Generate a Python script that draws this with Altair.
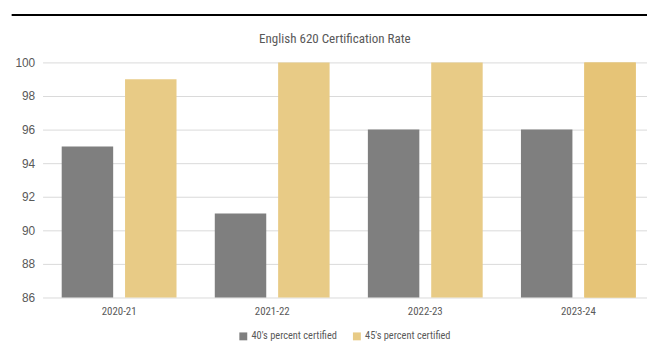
import altair as alt
import pandas as pd

years = ["2020-21", "2021-22", "2022-23", "2023-24"]
series = ["40's percent certified", "45's percent certified"]
s40 = [95, 91, 96, 96]
s45 = [99, 100, 100, 100]
colors = ["#7F7F7F", "#E8CB86"]
last_gold = "#E6C477"
title_text = "English 620 Certification Rate"

rows = []
for i, y in enumerate(years):
    rows.append({"year": y, "series": series[0], "value": s40[i]})
    rows.append({"year": y, "series": series[1], "value": s45[i]})
df = pd.DataFrame(rows)

NARROW = "Liberation Sans Narrow, Roboto Condensed, DejaVu Sans Condensed, sans-serif"

x_enc = alt.X("year:N", sort=years, title=None,
              scale=alt.Scale(range=[0, 620], paddingInner=0.25, paddingOuter=0.125),
              axis=alt.Axis(labelAngle=0, ticks=False, domain=False, grid=False,
                            labelFont=NARROW, labelFontSize=11, labelColor="#595959",
                            labelPadding=8))
xo_enc = alt.XOffset("series:N", sort=series,
                     scale=alt.Scale(domain=series, paddingInner=0.1875, paddingOuter=0))
y_enc = alt.Y("value:Q", title=None,
              scale=alt.Scale(domain=[86, 100], zero=False, nice=False),
              axis=alt.Axis(values=[86, 88, 90, 92, 94, 96, 98, 100], ticks=False,
                            domain=False, gridColor="#D9D9D9", gridWidth=1,
                            labelFont="Liberation Sans, sans-serif", labelFontSize=12,
                            labelColor="#595959", labelPadding=8))

bars = alt.Chart(df).mark_bar().encode(
    x=x_enc, xOffset=xo_enc, y=y_enc, y2=alt.datum(86),
    color=alt.Color("series:N", sort=series,
                    scale=alt.Scale(domain=series, range=colors),
                    legend=alt.Legend(title=None, orient="none", direction="horizontal",
                                      legendX=198, legendY=272, symbolType="square",
                                      symbolSize=64, symbolStrokeWidth=0,
                                      labelFont=NARROW, labelFontSize=10.5,
                                      labelColor="#595959", columnPadding=14,
                                      labelOffset=3)),
)

last = alt.Chart(df).transform_filter(
    (alt.datum.year == years[-1]) & (alt.datum.series == series[1])
).mark_bar(color=last_gold).encode(
    x=x_enc, xOffset=xo_enc, y=y_enc, y2=alt.datum(86)
)

topline = alt.Chart(df).mark_rule(color="black", strokeWidth=2).encode(
    x=alt.value(-31), x2=alt.value(620), y=alt.value(-48)
)

title = alt.Chart(pd.DataFrame({"t": [title_text]})).mark_text(
    font=NARROW, fontSize=13.2, color="#595959", align="center", baseline="middle"
).encode(text="t:N", x=alt.value(296), y=alt.value(-24))

chart = alt.layer(bars, last, topline, title).properties(
    width=612, height=238,
    autosize=alt.AutoSizeParams(type="none"),
    padding={"left": 35, "top": 53, "right": 0, "bottom": 47},
).configure_view(stroke=None)

chart.save("out.html", embed_options={"renderer": "svg", "actions": False})
